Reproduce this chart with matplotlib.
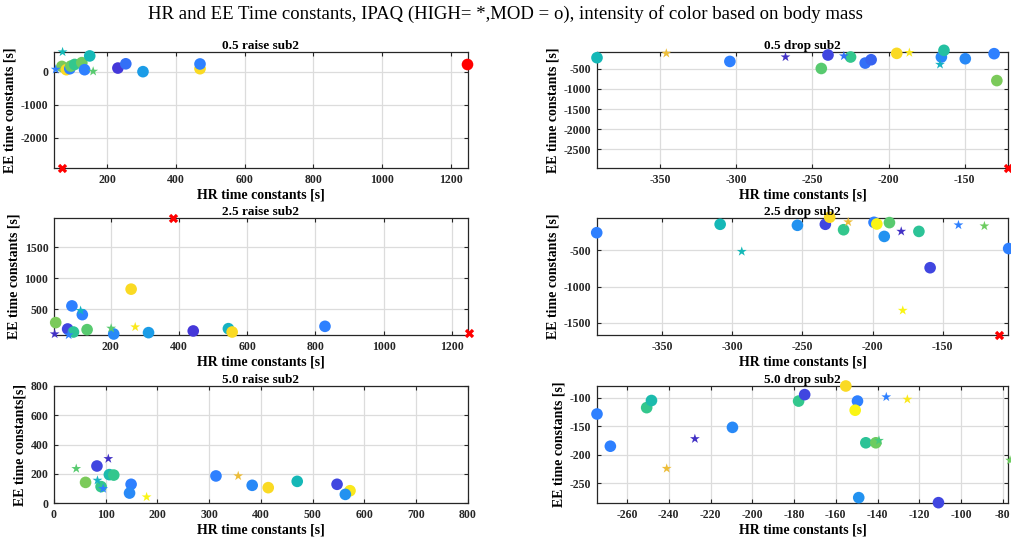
import numpy as np
import matplotlib
matplotlib.use('Agg')
import matplotlib.pyplot as plt
from matplotlib.colors import LinearSegmentedColormap

plt.rcParams['font.family'] = ['Liberation Serif', 'DejaVu Serif']
plt.rcParams['axes.unicode_minus'] = False

# ---- data: HR / EE time constants, body mass (kg) for colour ----
# 0.5 raise
r05_hr_o = [68, 81, 91, 94, 105, 126, 149, 134, 231, 254, 304, 470, 470]
r05_ee_o = [170, 70, 100, 180, 230, 285, 490, 70, 120, 250, 10, 100, 245]
r05_m_o = [81, 93, 65, 80, 77, 80, 73, 65, 60, 64, 68, 93, 65]
r05_hr_s = [50, 70, 159]
r05_ee_s = [80, 610, 20]
r05_m_s = [65, 73, 79]
r05_hr_x = [1246, 68]
r05_ee_x = [245, -2924]

# 0.5 drop
d05_hr_o = [-391.4, -304.2, -239.8, -244.2, -225, -215.4, -211.5, -194.7, -165.4, -163.7, -149.7, -130.8, -129]
d05_ee_o = [-225, -317, -158, -492, -208, -358, -275, -117, -208, -42, -250, -125, -792]
d05_m_o = [73, 65, 61, 79, 77, 64, 63, 93, 66, 75, 66, 65, 81]
d05_hr_s = [-345.9, -267.7, -229.4, -186.4, -166.3]
d05_ee_s = [-117, -208, -183, -100, -392]
d05_m_s = [89, 58, 64, 94, 72]
d05_hr_x = [-122]
d05_ee_x = [-2958]

# 2.5 raise
r25_hr_o = [260, 86.5, 117, 39, 74, 91, 131, 209, 311, 442, 545, 556, 828]
r25_ee_o = [825, 554, 413, 284, 181, 132, 170, 100, 122, 149, 186, 132, 224]
r25_m_o = [93, 65, 65, 81, 61, 76, 79, 66, 68, 60, 72, 93, 65]
r25_hr_s = [112, 36, 77, 201.5, 272]
r25_ee_s = [478, 100, 84, 192, 213]
r25_m_s = [72, 58, 65, 79, 94]
r25_hr_x = [382, 1249]
r25_ee_x = [1975, 111]

# 2.5 drop
d25_hr_o = [-396.7, -308.7, -253.6, -233.7, -230.6, -220.7, -199, -197, -191.7, -188, -167, -159, -103]
d25_ee_o = [-259, -143, -157, -143, -46, -218, -116, -139, -310, -120, -241, -741, -477]
d25_m_o = [65, 73, 67, 61, 93, 77, 65, 95, 67, 79, 76, 61, 65]
d25_hr_s = [-293.3, -217.4, -179.6, -178.5, -138.8, -120.3]
d25_ee_s = [-518, -111, -241, -1329, -153, -167]
d25_m_s = [73, 89, 58, 95, 65, 80]
d25_hr_x = [-110]
d25_ee_x = [-1667]

# 5.0 raise
r50_hr_o = [83, 61, 91, 107, 115.5, 149, 146, 313, 383, 414, 470, 547, 572, 563]
r50_ee_o = [253, 141, 112, 194, 191, 128, 68, 185, 121, 105, 148, 128, 84, 59]
r50_m_o = [61, 81, 77, 74, 77, 65, 66, 65, 66, 93, 73, 61, 94, 67]
r50_hr_s = [43, 105, 84, 95, 179, 356]
r50_ee_s = [235, 303, 155, 98, 41, 185]
r50_m_s = [79, 58, 72, 65, 95, 89]

# 5.0 drop
d50_hr_o = [-274.4, -268, -250.6, -248.3, -209.5, -177.8, -174.9, -155.2, -149.6, -150.7, -145.6, -140.8, -149, -110.8]
d50_ee_o = [-128.6, -185, -117.5, -105, -152, -106, -94.7, -79.6, -106, -122, -179, -179, -275, -283.8]
d50_m_o = [65, 65, 77, 74, 66, 77, 61, 93, 65, 95, 76, 80, 67, 61]
d50_hr_s = [-241, -227.5, -139.3, -135.8, -125.7, -76.5]
d50_ee_s = [-224, -172, -175, -98.8, -103, -209.7]
d50_m_s = [89, 58, 78, 65, 94, 80]

# parula-like colormap
parula = LinearSegmentedColormap.from_list('parula_like', [
    (0.0, (0.24, 0.15, 0.66)), (0.125, (0.27, 0.22, 0.85)), (0.25, (0.18, 0.50, 1.0)),
    (0.33, (0.10, 0.62, 0.90)), (0.45, (0.08, 0.72, 0.72)), (0.55, (0.20, 0.78, 0.55)),
    (0.625, (0.42, 0.80, 0.38)), (0.75, (0.72, 0.77, 0.25)), (0.85, (0.93, 0.74, 0.22)),
    (0.95, (0.98, 0.85, 0.14)), (1.0, (0.98, 0.96, 0.08))])
mmin, mmax = 55, 95

fig = plt.figure(figsize=(10.11, 5.37), dpi=100)
fig.suptitle('HR and EE Time constants, IPAQ (HIGH= *,MOD = o), intensity of color based on body mass',
             fontsize=13.5, y=0.99)

lx, lw = 0.0534, 0.4095
rx, rw = 0.5905, 0.4065
rows = [(0.6872, 0.216), (0.3762, 0.2179), (0.0633, 0.2179)]


def panel(pos, title, hr_o, ee_o, m_o, hr_s, ee_s, m_s, hr_x, ee_x,
          xlim, ylim, xticks, yticks, ylabel='EE time constants [s]', red_circle=None):
    ax = fig.add_axes(pos)
    ax.scatter(hr_o, ee_o, c=m_o, cmap=parula, vmin=mmin, vmax=mmax, s=70,
               marker='o', linewidths=0, clip_on=False, zorder=3)
    ax.scatter(hr_s, ee_s, c=m_s, cmap=parula, vmin=mmin, vmax=mmax, s=55,
               marker='*', linewidths=0, clip_on=False, zorder=3)
    if red_circle is not None:
        ax.scatter([hr_x[i] for i in red_circle], [ee_x[i] for i in red_circle],
                   color='red', s=70, marker='o', linewidths=0, clip_on=False, zorder=4)
    if hr_x:
        ax.scatter(hr_x, ee_x, color='red', s=45, marker='X', linewidths=0,
                   clip_on=False, zorder=4)
    ax.set_xlim(xlim)
    ax.set_ylim(ylim)
    ax.set_xticks(xticks)
    ax.set_yticks(yticks)
    ax.grid(True, color='#dcdcdc', linewidth=0.9)
    ax.set_axisbelow(True)
    ax.tick_params(direction='in', top=True, right=True, length=3, width=0.8,
                   labelsize=8.5, colors='#262626', pad=4)
    for lab in ax.get_xticklabels() + ax.get_yticklabels():
        lab.set_fontweight('bold')
    for sp in ax.spines.values():
        sp.set_color('#262626')
        sp.set_linewidth(0.9)
    ax.set_title(title, fontsize=9.5, fontweight='bold', pad=2)
    ax.set_xlabel('HR time constants [s]', fontsize=10, fontweight='bold', labelpad=2)
    ax.set_ylabel(ylabel, fontsize=10, fontweight='bold', labelpad=3)
    return ax


panel([lx, rows[0][0], lw, rows[0][1]], '0.5 raise sub2',
      r05_hr_o, r05_ee_o, r05_m_o, r05_hr_s, r05_ee_s, r05_m_s, r05_hr_x, r05_ee_x,
      (45, 1250), (-2925, 610), range(200, 1201, 200), [-2000, -1000, 0], red_circle=[0])
panel([rx, rows[0][0], rw, rows[0][1]], '0.5 drop sub2',
      d05_hr_o, d05_ee_o, d05_m_o, d05_hr_s, d05_ee_s, d05_m_s, d05_hr_x, d05_ee_x,
      (-391.4, -121.7), (-2958, -83), range(-350, -149, 50), range(-2500, -499, 500))
panel([lx, rows[1][0], lw, rows[1][1]], '2.5 raise sub2',
      r25_hr_o, r25_ee_o, r25_m_o, r25_hr_s, r25_ee_s, r25_m_s, r25_hr_x, r25_ee_x,
      (34, 1247), (84, 1976), range(200, 1201, 200), [500, 1000, 1500])
panel([rx, rows[1][0], rw, rows[1][1]], '2.5 drop sub2',
      d25_hr_o, d25_ee_o, d25_m_o, d25_hr_s, d25_ee_s, d25_m_s, d25_hr_x, d25_ee_x,
      (-396.5, -103.5), (-1667, -56), range(-350, -149, 50), [-1500, -1000, -500])
panel([lx, rows[2][0], lw, rows[2][1]], '5.0 raise sub2',
      r50_hr_o, r50_ee_o, r50_m_o, r50_hr_s, r50_ee_s, r50_m_s, [], [],
      (0, 800), (0, 800), range(0, 801, 100), range(0, 801, 200),
      ylabel='EE time constants[s]')
panel([rx, rows[2][0], rw, rows[2][1]], '5.0 drop sub2',
      d50_hr_o, d50_ee_o, d50_m_o, d50_hr_s, d50_ee_s, d50_m_s, [], [],
      (-274.4, -77.5), (-284.4, -79.6), range(-260, -79, 20), range(-250, -99, 50))

fig.savefig('out.png', dpi=100)
